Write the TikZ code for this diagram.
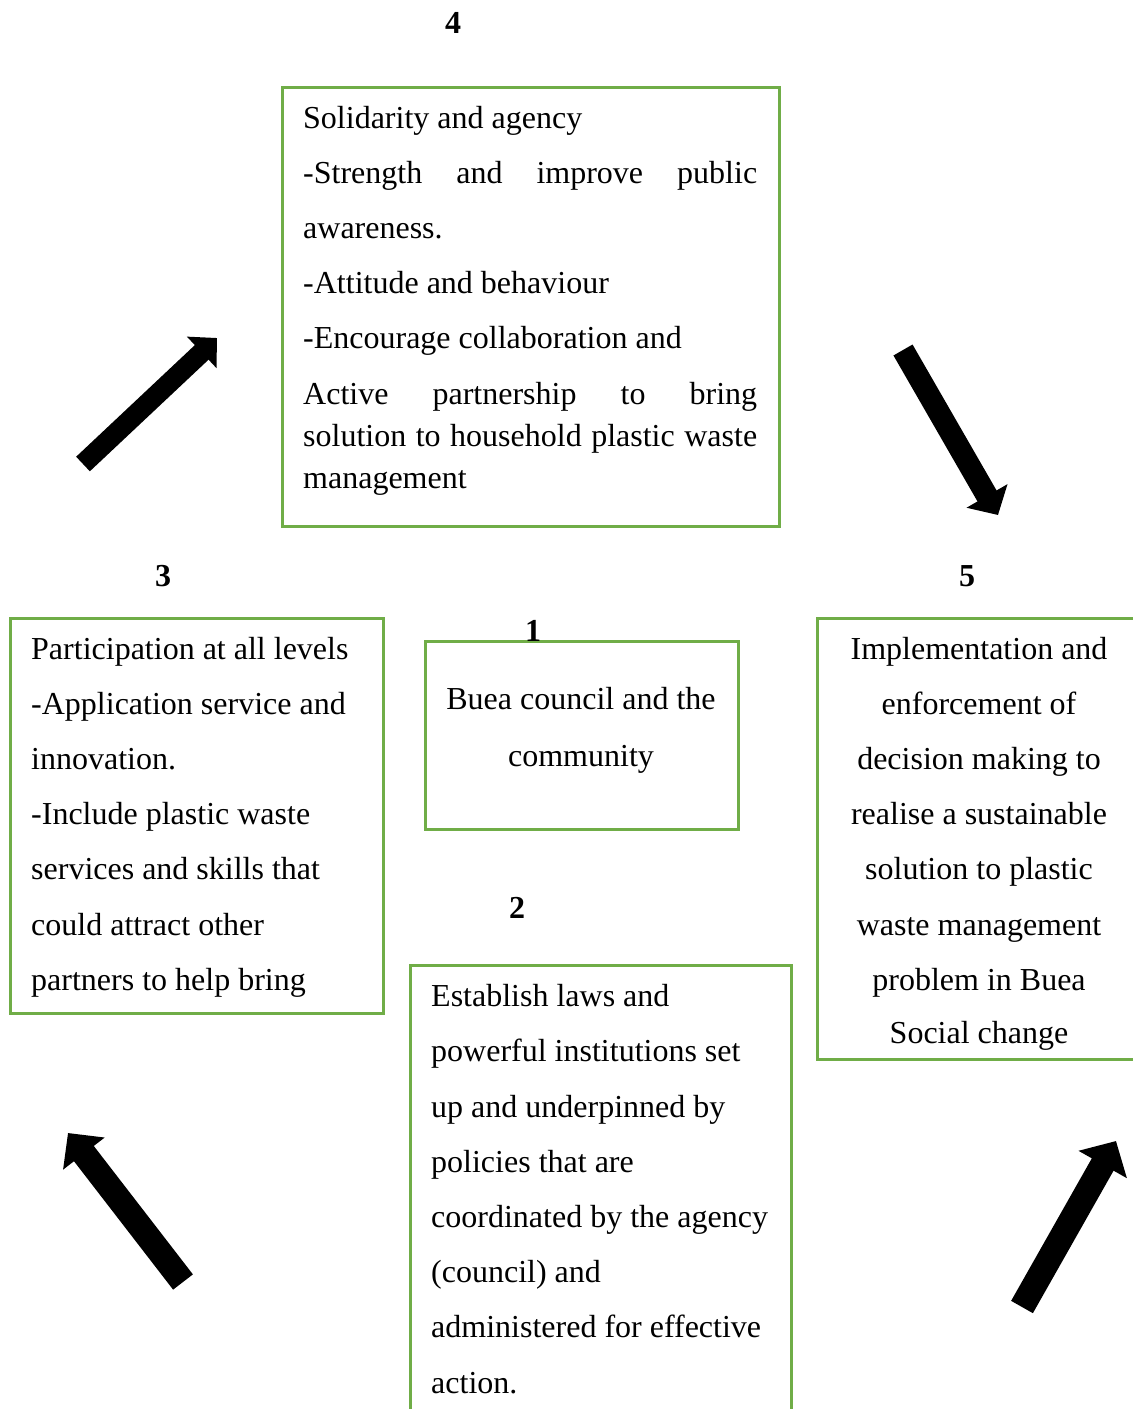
\documentclass[tikz,border=0pt]{standalone}
\usepackage{fontspec}
\setmainfont{Liberation Serif}
\usetikzlibrary{arrows.meta}
\definecolor{boxgreen}{HTML}{70AD47}
\tikzset{
  gbox/.style={draw=boxgreen, line width=3pt, anchor=north west, inner sep=0pt, outer sep=0pt},
  ln/.style={anchor=base west, inner sep=0pt},
  lc/.style={anchor=base, inner sep=0pt},
  num/.style={anchor=base, inner sep=0pt, font=\fontsize{32}{38}\selectfont\bfseries},
  blockarrow/.style={line cap=butt, draw=black}
}
\newcommand{\jline}[1]{\makebox[454pt][s]{#1}}
\begin{document}
\begin{tikzpicture}[x=1pt,y=-1pt, font=\fontsize{32}{38}\selectfont]
\path[use as bounding box, clip] (0,0) rectangle (1133,1409);

% boxes
\node[gbox, minimum width=497pt, minimum height=439pt] (b4) at (282,87) {};
\node[gbox, minimum width=373pt, minimum height=395pt] (b3) at (10,618) {};
\node[gbox, minimum width=313pt, minimum height=188pt] (b1) at (425,641) {};
\node[gbox, minimum width=381pt, minimum height=460pt] (b2) at (410,965) {};
\node[gbox, minimum width=330pt, minimum height=441pt] (b5) at (817,618) {};

% numbers
\node[num] (n4) at (453,33) {4};
\node[num] (n3) at (163,586) {3};
\node[num] (n5) at (967,586) {5};
\node[num] (n1) at (533,641) {1};
\node[num] (n2) at (517,918) {2};

% box 4 text
\node[ln] (t4a) at (303,128) {Solidarity and agency};
\node[ln] (t4b) at (303,183) {\jline{-Strength and improve public}};
\node[ln] (t4c) at (303,238) {awareness.};
\node[ln] (t4d) at (303,293) {-Attitude and behaviour};
\node[ln] (t4e) at (303,348) {-Encourage collaboration and};
\node[ln] (t4f) at (303,404) {\jline{Active partnership to bring}};
\node[ln] (t4g) at (303,446) {\jline{solution to household plastic waste}};
\node[ln] (t4h) at (303,488) {management};

% box 3 text
\node[ln] (t3a) at (31,659) {Participation at all levels};
\node[ln] (t3b) at (31,714) {-Application service and};
\node[ln] (t3c) at (31,769) {innovation.};
\node[ln] (t3d) at (31,824) {-Include plastic waste};
\node[ln] (t3e) at (31,879) {services and skills that};
\node[ln] (t3f) at (31,935) {could attract other};
\node[ln] (t3g) at (31,990) {partners to help bring};

% box 1 text
\node[lc] (t1a) at (581,709) {Buea council and the};
\node[lc] (t1b) at (581,766) {community};

% box 2 text
\node[ln] (t2a) at (431,1006) {Establish laws and};
\node[ln] (t2b) at (431,1061) {powerful institutions set};
\node[ln] (t2c) at (431,1117) {up and underpinned by};
\node[ln] (t2d) at (431,1172) {policies that are};
\node[ln] (t2e) at (431,1227) {coordinated by the agency};
\node[ln] (t2f) at (431,1282) {(council) and};
\node[ln] (t2g) at (431,1337) {administered for effective};
\node[ln] (t2h) at (431,1393) {action.};

% box 5 text
\node[lc] (t5a) at (979,659) {Implementation and};
\node[lc] (t5b) at (979,714) {enforcement of};
\node[lc] (t5c) at (979,769) {decision making to};
\node[lc] (t5d) at (979,824) {realise a sustainable};
\node[lc] (t5e) at (979,879) {solution to plastic};
\node[lc] (t5f) at (979,935) {waste management};
\node[lc] (t5g) at (979,990) {problem in Buea};
\node[lc] (t5h) at (979,1043) {Social change};

% block arrows
\coordinate (a1s) at (83,464);   \coordinate (a1e) at (217,338);
\coordinate (a2s) at (903,350);  \coordinate (a2e) at (998,515);
\coordinate (a3s) at (183,1282); \coordinate (a3e) at (68,1133);
\coordinate (a4s) at (1022,1307);\coordinate (a4e) at (1116,1141);
\draw[blockarrow, line width=20pt, -{Triangle[length=21pt,width=42pt]}] (a1s) -- (a1e);
\draw[blockarrow, line width=22pt, -{Triangle[length=22pt,width=46pt]}] (a2s) -- (a2e);
\draw[blockarrow, line width=25pt, -{Triangle[length=26pt,width=51pt]}] (a3s) -- (a3e);
\draw[blockarrow, line width=25pt, -{Triangle[length=27pt,width=54pt]}] (a4s) -- (a4e);
\end{tikzpicture}
\end{document}
